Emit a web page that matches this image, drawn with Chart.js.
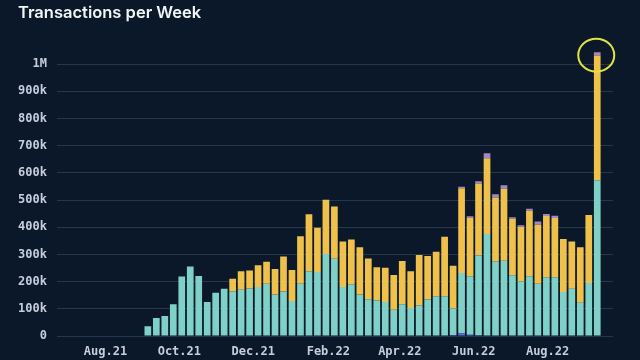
<!DOCTYPE html>
<html>
<head>
<meta charset="utf-8">
<script src="https://cdn.jsdelivr.net/npm/chart.js@4.4.1/dist/chart.umd.min.js"></script>
<style>
  html, body { margin: 0; padding: 0; background: #0a182a; }
  #wrap { width: 640px; height: 360px; }
</style>
</head>
<body>
<div id="wrap"><canvas id="txChart" width="640" height="360"></canvas></div>
<script>
// weekly buckets, first week starts 2021-09-05
const firstWeek = "2021-09-05";
const weekCount = 54;

// values in thousands of transactions
const blueSeries = [0,0,0,0,0,0,0,0,0,0, 0,0,0,0,0,0,0,0,0,0, 0,0,0,0,0,0,0,0,0,0, 0,0,0,0,0,2,4,10,5,3, 0,0,0,0,0,0,0,0,0,0, 0,0,0,0];
const tealSeries = [36,66,74,117,219,256,221,125,159,174, 164,170,175,180,192,153,164,129,192,238, 235,302,284,180,190,153,135,131,125,97, 117,103,112,134,146,144,97,222,215,293, 375,275,277,223,200,220,192,216,216,162, 174,122,195,573];
const yellowSeries = [0,0,0,0,0,0,0,0,0,0, 47,68,66,80,81,93,128,114,175,210, 163,199,192,168,165,173,150,122,126,127, 159,135,186,160,164,219,157,311,215,265, 279,234,265,208,202,241,217,225,218,195, 174,204,250,459];
const purpleSeries = [0,0,0,0,0,0,0,0,0,0, 0,0,0,0,0,0,0,0,0,0, 0,0,0,0,0,0,0,0,0,0, 0,0,0,0,0,0,0,6,5,8, 18,12,12,6,5,7,12,8,8,0, 0,0,0,12];

const tickDates = ["2021-08-01","2021-10-01","2021-12-01","2022-02-01","2022-04-01","2022-06-01","2022-08-01"];
const tickLabels = ["Aug.21","Oct.21","Dec.21","Feb.22","Apr.22","Jun.22","Aug.22"];
const yTicks = [0,100,200,300,400,500,600,700,800,900,1000];

const DAY = 86400000;
const origin = Date.parse(tickDates[0]);
const toDay = s => Math.round((Date.parse(s) - origin) / DAY);

const weekDays = [];
for (let i = 0; i < weekCount; i++) weekDays.push(toDay(firstWeek) + 7 * i);
const tickDays = tickDates.map(toDay);

const toPoints = arr => arr.map((v, i) => ({ x: weekDays[i], y: v }));

const monoFont = { family: "'DejaVu Sans Mono', monospace", size: 12, weight: "bold" };
const labelColor = "#c6cedb";

// yellow ring around the last week's bar
const ringPlugin = {
  id: "ring",
  afterDatasetsDraw(chart) {
    const last = weekCount - 1;
    const bar = chart.getDatasetMeta(3).data[last];
    if (!bar) return;
    const total = blueSeries[last] + tealSeries[last] + yellowSeries[last] + purpleSeries[last];
    const top = chart.scales.y.getPixelForValue(total);
    const ctx = chart.ctx;
    ctx.save();
    ctx.beginPath();
    ctx.ellipse(bar.x - 1, top + 3, 18, 16.5, 0, 0, Math.PI * 2);
    ctx.strokeStyle = "#e2e43c";
    ctx.lineWidth = 2;
    ctx.stroke();
    ctx.restore();
  }
};

const ctx = document.getElementById("txChart").getContext("2d");
new Chart(ctx, {
  type: "bar",
  data: {
    datasets: [
      { label: "Other", data: toPoints(blueSeries), backgroundColor: "#5a6ee0" },
      { label: "Type A", data: toPoints(tealSeries), backgroundColor: "#7fd0c6" },
      { label: "Type B", data: toPoints(yellowSeries), backgroundColor: "#efc14b" },
      { label: "Type C", data: toPoints(purpleSeries), backgroundColor: "#9f88c8" }
    ]
  },
  options: {
    responsive: false,
    animation: false,
    layout: { padding: { left: 18, right: 27, top: 0, bottom: 0 } },
    datasets: { bar: { categoryPercentage: 1, barPercentage: 0.79 } },
    plugins: {
      legend: { display: false },
      tooltip: { enabled: false },
      title: {
        display: true,
        text: "Transactions per Week",
        align: "start",
        color: "#f2f5f8",
        font: { family: "Inter, 'Open Sans', sans-serif", size: 16.5, weight: "600" },
        padding: { top: 3, bottom: 25 }
      }
    },
    scales: {
      x: {
        type: "linear",
        offset: false,
        stacked: true,
        min: -40,
        max: 419,
        grid: { display: false },
        border: { display: false },
        afterBuildTicks: axis => { axis.ticks = tickDays.map(v => ({ value: v })); },
        afterFit: axis => { axis.height = 24; },
        ticks: {
          color: labelColor,
          font: monoFont,
          padding: 1,
          maxRotation: 0,
          autoSkip: false,
          callback: v => tickLabels[tickDays.indexOf(v)]
        }
      },
      y: {
        stacked: true,
        min: 0,
        max: 1060,
        border: { display: false },
        grid: { color: "rgba(110,135,170,0.28)", lineWidth: 1, drawTicks: false },
        afterBuildTicks: axis => { axis.ticks = yTicks.map(v => ({ value: v })); },
        afterFit: axis => { axis.width = 39; },
        ticks: {
          color: labelColor,
          font: monoFont,
          padding: 10,
          callback: v => v === 0 ? "0" : v >= 1000 ? (v / 1000) + "M" : v + "k"
        }
      }
    }
  },
  plugins: [ringPlugin]
});
</script>
</body>
</html>
